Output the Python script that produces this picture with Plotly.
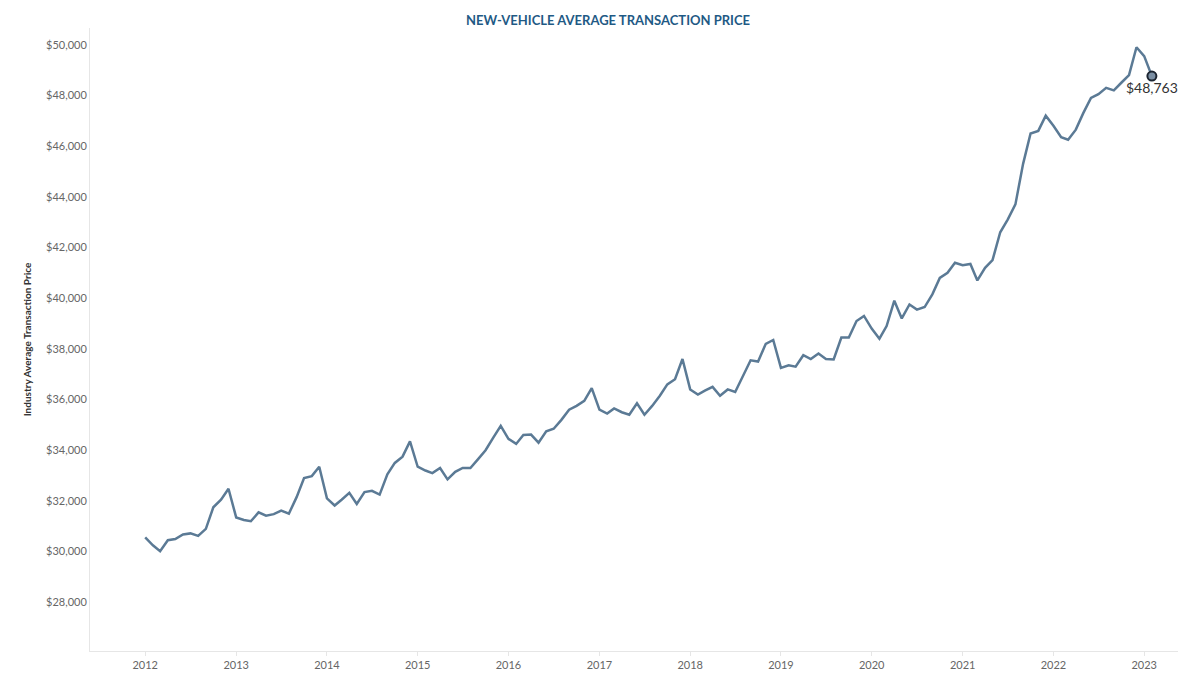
import pandas as pd
import plotly.graph_objects as go

# Monthly average transaction price, Jan 2012 - Feb 2023
prices = [
    30560, 30250, 30020, 30450, 30500, 30680, 30720, 30620, 30900, 31750, 32050, 32480,  # 2012
    31350, 31250, 31200, 31550, 31420, 31480, 31620, 31500, 32150, 32900, 32980, 33350,  # 2013
    32100, 31820, 32050, 32320, 31880, 32350, 32400, 32250, 33050, 33500, 33750, 34350,  # 2014
    33350, 33200, 33100, 33300, 32850, 33150, 33300, 33300, 33650, 34000, 34500, 34960,  # 2015
    34450, 34250, 34600, 34620, 34300, 34750, 34850, 35200, 35600, 35750, 35950, 36450,  # 2016
    35600, 35450, 35650, 35500, 35400, 35850, 35400, 35750, 36150, 36600, 36800, 37600,  # 2017
    36400, 36200, 36350, 36500, 36150, 36400, 36300, 36950, 37550, 37500, 38200, 38350,  # 2018
    37250, 37350, 37300, 37750, 37600, 37820, 37600, 37580, 38450, 38450, 39100, 39300,  # 2019
    38800, 38400, 38900, 39900, 39200, 39750, 39550, 39650, 40150, 40800, 41000, 41400,  # 2020
    41300, 41350, 40700, 41200, 41500, 42600, 43100, 43700, 45300, 46500, 46600, 47200,  # 2021
    46800, 46350, 46250, 46650, 47300, 47900, 48050, 48300, 48200, 48500, 48800, 49900,  # 2022
    49550, 48763,  # 2023
]
months = pd.date_range("2012-01-01", periods=len(prices), freq="MS")
year_ticks = [f"{y}-01-01" for y in range(2012, 2024)]
year_labels = [str(y) for y in range(2012, 2024)]

line_color = "#5B7A95"

fig = go.Figure()
fig.add_trace(go.Scatter(x=months, y=prices, mode="lines",
                         line=dict(color=line_color, width=2.5)))
fig.add_trace(go.Scatter(x=[months[-1]], y=[prices[-1]], mode="markers+text",
                         marker=dict(color="#7a8ea3", size=9, line=dict(color="#1c2430", width=2)),
                         text=[f"${prices[-1]:,}"], textposition="bottom center",
                         textfont=dict(size=14, color="#333333")))

fig.update_layout(
    width=1200, height=675, showlegend=False,
    plot_bgcolor="white", paper_bgcolor="white",
    margin=dict(l=82, r=30, t=20, b=28),
    font=dict(family="Lato, Open Sans, sans-serif", color="#666666"),
    title=dict(text="<b>NEW-VEHICLE AVERAGE TRANSACTION PRICE</b>", x=0.5, y=0.988,
               xanchor="center", font=dict(size=13, color="#1F5A85")),
)
fig.update_xaxes(tickvals=year_ticks, ticktext=year_labels, showgrid=False,
                 showline=True, linecolor="#e6e6e6", ticks="outside", tickcolor="#e6e6e6",
                 ticklen=4, tickfont=dict(size=11, color="#666666"),
                 range=["2011-05-24", "2023-05-17"])
fig.update_yaxes(range=[26080, 50660], tickvals=list(range(28000, 50001, 2000)),
                 tickformat="$,d", showgrid=False, zeroline=False,
                 showline=True, linecolor="#e6e6e6", tickfont=dict(size=11, color="#666666"),
                 title=dict(text="<b>Industry Average Transaction Price</b>",
                            font=dict(size=10, color="#333333"), standoff=12))

fig.write_html("out.html")
